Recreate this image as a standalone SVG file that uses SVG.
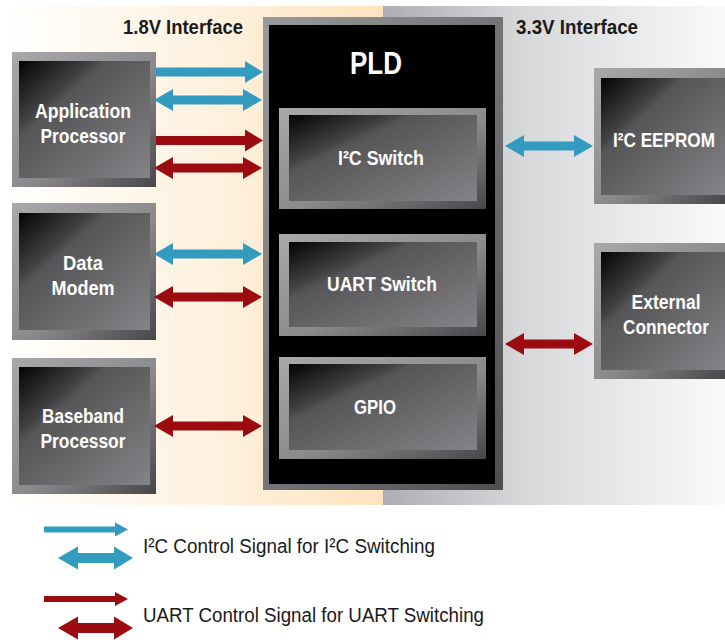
<svg xmlns="http://www.w3.org/2000/svg" width="725" height="640" viewBox="0 0 725 640">
<defs>
<linearGradient id="bgL" x1="0" y1="0" x2="1" y2="0">
<stop offset="0" stop-color="#ffffff"/>
<stop offset="0.5" stop-color="#fef3e3"/>
<stop offset="1" stop-color="#fde3bf"/>
</linearGradient>
<linearGradient id="bgR" x1="0" y1="0" x2="1" y2="0">
<stop offset="0" stop-color="#aeaeb2"/>
<stop offset="0.4" stop-color="#d6d7d9"/>
<stop offset="1" stop-color="#fafafa"/>
</linearGradient>
<linearGradient id="frame" x1="0" y1="0" x2="1" y2="1">
<stop offset="0" stop-color="#a9a9ac"/>
<stop offset="0.55" stop-color="#8a8a8d"/>
<stop offset="1" stop-color="#474749"/>
</linearGradient>
<linearGradient id="face" x1="0" y1="0" x2="1" y2="1">
<stop offset="0" stop-color="#030303"/>
<stop offset="0.28" stop-color="#424244"/>
<stop offset="0.33" stop-color="#555557"/>
<stop offset="1" stop-color="#848488"/>
</linearGradient>
<linearGradient id="pldFrame" x1="0" y1="0" x2="1" y2="1">
<stop offset="0" stop-color="#9a9a9d"/>
<stop offset="1" stop-color="#4e4e50"/>
</linearGradient>
</defs>
<style>
.frame{fill:url(#frame)}
.face{fill:url(#face)}
.lbl{font-family:"Liberation Sans Narrow","Liberation Sans",Arial,sans-serif;font-weight:bold;font-size:21px;fill:#ffffff;text-anchor:middle}
.head{font-family:"Liberation Sans Narrow","Liberation Sans",Arial,sans-serif;font-weight:bold;font-size:21px;fill:#1a1a1a}
.leg{font-family:"Liberation Sans Narrow","Liberation Sans",Arial,sans-serif;font-size:20px;fill:#1a1a1a}
.i2c{fill:#339bbf}
.uart{fill:#9b0b0f}
</style>

<rect x="0" y="6" width="383" height="499" fill="url(#bgL)"/>
<rect x="383" y="6" width="342" height="499" fill="url(#bgR)"/>

<text class="head" x="123" y="34" textLength="120" lengthAdjust="spacingAndGlyphs">1.8V Interface</text>
<text class="head" x="516" y="34" textLength="122" lengthAdjust="spacingAndGlyphs">3.3V Interface</text>

<g id="pld">
<rect x="263" y="17" width="240" height="473" fill="url(#pldFrame)"/>
<rect x="269" y="25" width="226" height="459" fill="#000000"/>
<text class="lbl" x="376" y="74" style="font-size:31px" textLength="52" lengthAdjust="spacingAndGlyphs">PLD</text>
</g>

<g id="i2c-switch">
<rect class="frame" x="279" y="108" width="207" height="101"/>
<rect class="face" x="289" y="115" width="188" height="86"/>
<text class="lbl" x="381" y="165" textLength="86" lengthAdjust="spacingAndGlyphs">I²C Switch</text>
</g>

<g id="uart-switch">
<rect class="frame" x="279" y="234" width="207" height="102"/>
<rect class="face" x="289" y="242" width="188" height="85"/>
<text class="lbl" x="382" y="291" textLength="110" lengthAdjust="spacingAndGlyphs">UART Switch</text>
</g>

<g id="gpio">
<rect class="frame" x="279" y="357" width="207" height="102"/>
<rect class="face" x="289" y="364" width="188" height="86"/>
<text class="lbl" x="375" y="414" textLength="42" lengthAdjust="spacingAndGlyphs">GPIO</text>
</g>

<g id="application-processor">
<rect class="frame" x="12" y="52" width="144" height="135"/>
<rect class="face" x="19" y="61" width="131" height="117"/>
<text class="lbl" x="83" y="118" textLength="96" lengthAdjust="spacingAndGlyphs">Application</text>
<text class="lbl" x="83" y="143" textLength="85" lengthAdjust="spacingAndGlyphs">Processor</text>
</g>

<g id="data-modem">
<rect class="frame" x="12" y="203" width="144" height="137"/>
<rect class="face" x="19" y="213" width="131" height="117"/>
<text class="lbl" x="83" y="270" textLength="40" lengthAdjust="spacingAndGlyphs">Data</text>
<text class="lbl" x="83" y="295" textLength="63" lengthAdjust="spacingAndGlyphs">Modem</text>
</g>

<g id="baseband-processor">
<rect class="frame" x="12" y="358" width="144" height="136"/>
<rect class="face" x="19" y="367" width="131" height="118"/>
<text class="lbl" x="83" y="423" textLength="82" lengthAdjust="spacingAndGlyphs">Baseband</text>
<text class="lbl" x="83" y="448" textLength="85" lengthAdjust="spacingAndGlyphs">Processor</text>
</g>

<g id="i2c-eeprom">
<rect class="frame" x="594" y="68" width="131" height="136"/>
<rect class="face" x="601" y="78" width="124" height="117"/>
<text class="lbl" x="664" y="147" textLength="102" lengthAdjust="spacingAndGlyphs">I²C EEPROM</text>
</g>

<g id="external-connector">
<rect class="frame" x="594" y="243" width="131" height="136"/>
<rect class="face" x="601" y="252" width="124" height="118"/>
<text class="lbl" x="666" y="309" textLength="69" lengthAdjust="spacingAndGlyphs">External</text>
<text class="lbl" x="666" y="334" textLength="86" lengthAdjust="spacingAndGlyphs">Connector</text>
</g>

<g id="connectors">
<path class="i2c" d="M156,67.5 H245 V61 L263,72 L245,83 V76.5 H156 Z"/>
<path class="i2c" d="M154,100 L173,89 V95.5 H243 V89 L262,100 L243,111 V104.5 H173 V111 Z"/>
<path class="uart" d="M156,136 H245 V129.5 L263,140.5 L245,151.5 V145 H156 Z"/>
<path class="uart" d="M154,168 L173,157 V163.5 H243 V157 L262,168 L243,179 V172.5 H173 V179 Z"/>
<path class="i2c" d="M154,254 L173,243 V249.5 H243 V243 L262,254 L243,265 V258.5 H173 V265 Z"/>
<path class="uart" d="M154,297 L173,286 V292.5 H243 V286 L262,297 L243,308 V301.5 H173 V308 Z"/>
<path class="uart" d="M154,426 L173,415 V421.5 H243 V415 L262,426 L243,437 V430.5 H173 V437 Z"/>
<path class="i2c" d="M505,146 L524,135 V141.5 H574 V135 L593,146 L574,157 V150.5 H524 V157 Z"/>
<path class="uart" d="M505,344 L524,333 V339.5 H574 V333 L593,344 L574,355 V348.5 H524 V355 Z"/>
</g>

<g id="legend">
<path class="i2c" d="M44,526.5 H115 V522.5 L128,529.5 L115,536.5 V532.5 H44 Z"/>
<path class="i2c" d="M58,558 L78,546.5 V553 H114 V546.5 L133,558 L114,569.5 V563 H78 V569.5 Z"/>
<text class="leg" x="143" y="553" textLength="292" lengthAdjust="spacingAndGlyphs">I²C Control Signal for I²C Switching</text>
<path class="uart" d="M44,596 H115 V592 L128,599 L115,606 V602 H44 Z"/>
<path class="uart" d="M58,628 L78,616.5 V623 H114 V616.5 L133,628 L114,639.5 V633 H78 V639.5 Z"/>
<text class="leg" x="143" y="622" textLength="341" lengthAdjust="spacingAndGlyphs">UART Control Signal for UART Switching</text>
</g>
</svg>
